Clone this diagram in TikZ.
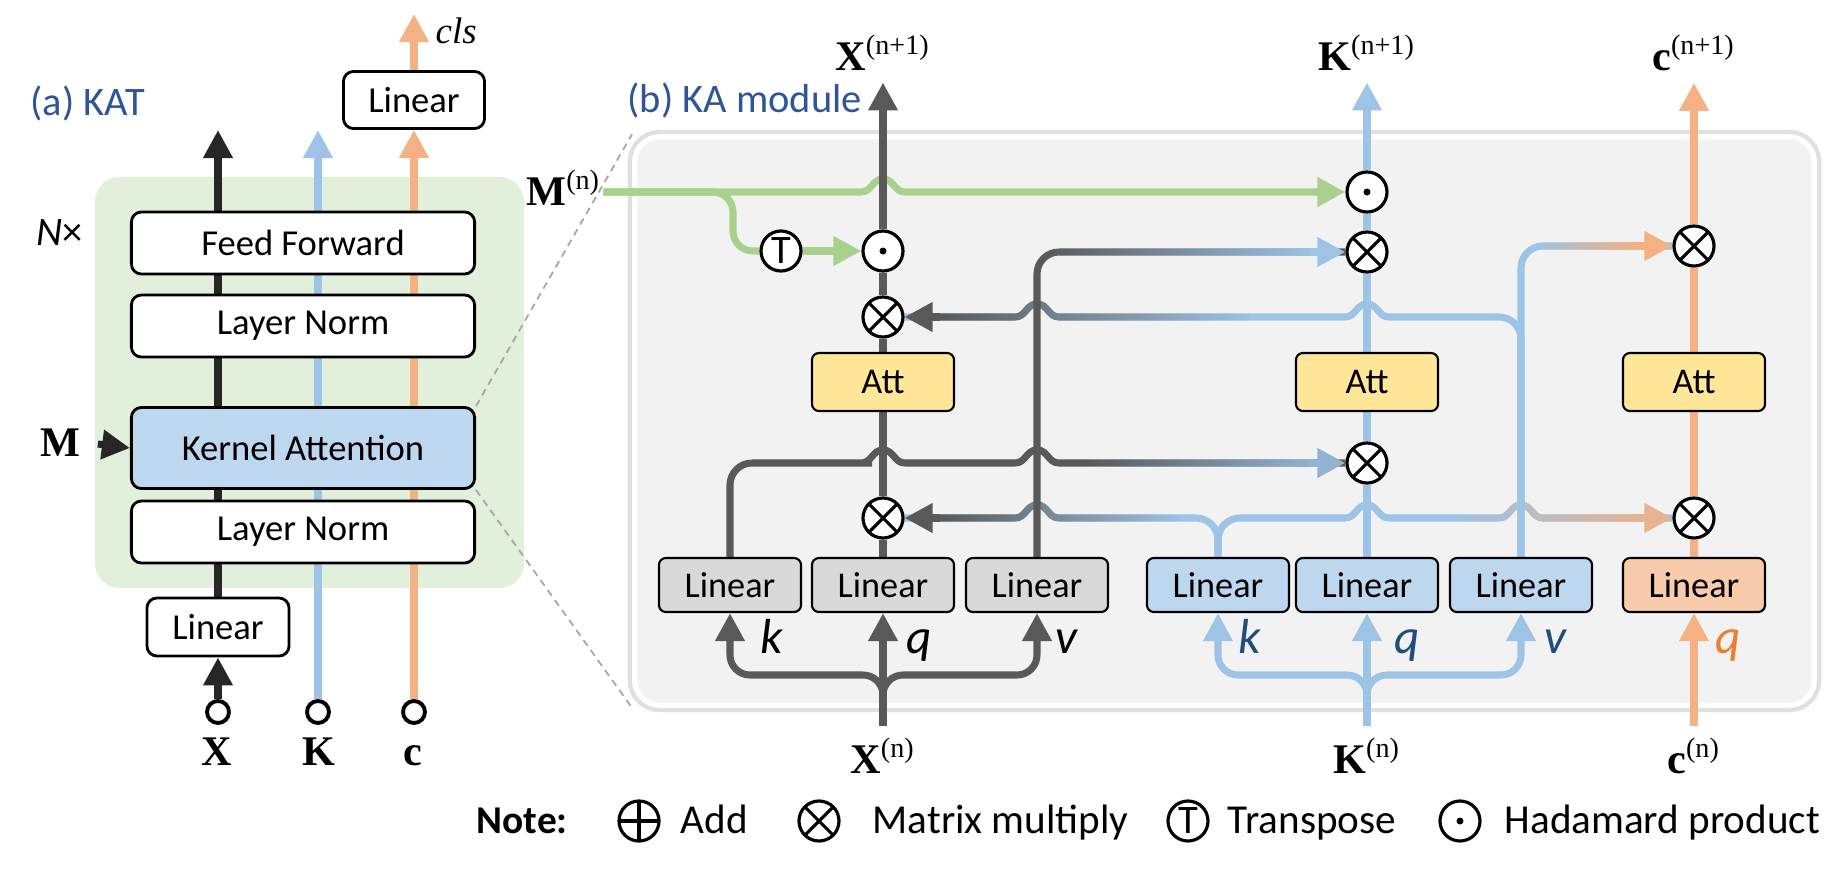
\documentclass[tikz,border=0pt]{standalone}
\usepackage{fontspec}
\setmainfont{Carlito}
\newfontfamily\tms{Liberation Serif}
\usetikzlibrary{arrows.meta}
\usetikzlibrary{fadings}
\definecolor{xgray}{HTML}{595959}
\definecolor{xdark}{HTML}{262626}
\definecolor{kblue}{HTML}{9DC3E6}
\definecolor{corange}{HTML}{F4B183}
\definecolor{mgreen}{HTML}{A9D18E}
\definecolor{linfill}{HTML}{D9D9D9}
\definecolor{kfill}{HTML}{BDD7EE}
\definecolor{cfill}{HTML}{F8CBAD}
\definecolor{attfill}{HTML}{FFE699}
\definecolor{panelbg}{HTML}{F2F2F2}
\definecolor{katbg}{HTML}{E2EFDA}
\definecolor{titleblue}{HTML}{2F5597}
\definecolor{kvar}{HTML}{1F4E79}
\definecolor{cvar}{HTML}{ED7D31}
\pgfdeclarelayer{back}
\pgfdeclarelayer{lines}
\pgfsetlayers{back,lines,main}
\tikzfading[name=fade l2r, left color=transparent!100, right color=transparent!0]
\tikzfading[name=fade r2l, left color=transparent!0, right color=transparent!100]
\newcommand{\vlabel}[2]{{\tms\fontsize{12}{14}\selectfont\textbf{#1}\textsuperscript{#2}}}
% line hop over a vertical line at x=#1, height y=#2
\newcommand{\hopr}[2]{-- (#1-22,#2) .. controls (#1-11,#2) and (#1-11,#2-13) .. (#1,#2-13) .. controls (#1+11,#2-13) and (#1+11,#2) .. (#1+22,#2)}
\newcommand{\hopl}[2]{-- (#1+22,#2) .. controls (#1+11,#2) and (#1+11,#2-13) .. (#1,#2-13) .. controls (#1-11,#2-13) and (#1-11,#2) .. (#1-22,#2)}

\begin{document}
\begin{tikzpicture}[x=0.01cm,y=-0.01cm,line cap=round,>={Triangle[length=0.28cm,width=0.28cm]},
    box/.style={draw,line width=0.8pt,rounded corners=0.1cm,fill=white,minimum width=3.43cm,minimum height=0.62cm,font=\fontsize{10.4}{12}\selectfont},
    lin/.style={draw,line width=0.6pt,rounded corners=0.07cm,minimum width=1.42cm,minimum height=0.54cm,font=\fontsize{10.3}{12}\selectfont},
    att/.style={lin,fill=attfill,minimum height=0.58cm},
    op/.style={circle,draw,line width=0.9pt,fill=white,minimum size=0.4cm,inner sep=0pt},
    otimes/.style={op,path picture={\draw[black,line width=0.9pt] (path picture bounding box.north west) -- (path picture bounding box.south east) (path picture bounding box.north east) -- (path picture bounding box.south west);}},
    odot/.style={op,path picture={\fill[black] (path picture bounding box.center) circle[radius=0.035cm];}},
    oplus/.style={op,path picture={\draw[black,line width=0.9pt] (path picture bounding box.north) -- (path picture bounding box.south) (path picture bounding box.west) -- (path picture bounding box.east);}},
    tee/.style={op,font=\fontsize{11.5}{12}\selectfont},
    port/.style={circle,draw,line width=1.1pt,fill=white,minimum size=0.22cm,inner sep=0pt},
    xline/.style={draw=xgray,line width=2pt},
    dline/.style={draw=xdark,line width=2pt},
    kline/.style={draw=kblue,line width=2pt},
    cline/.style={draw=corange,line width=2pt},
    mline/.style={draw=mgreen,line width=2pt},
    qkv/.style={anchor=base,font=\fontsize{14}{16}\selectfont\itshape},
    paneltitle/.style={anchor=base west,inner sep=0pt,text=titleblue,font=\fontsize{11.5}{14}\selectfont},
    legtext/.style={anchor=base west,inner sep=0pt,font=\fontsize{11.7}{13}\selectfont}]
  \useasboundingbox (0,0) rectangle (1844,884);
  \begin{pgfonlayer}{back}
    \node[fill=katbg,rounded corners=0.25cm,minimum width=4.29cm,minimum height=4.11cm] (katpanel) at (309.5,382.5) {};
    \node[fill=panelbg,draw=white,line width=1.5pt,rounded corners=0.25cm,minimum width=11.79cm,minimum height=5.68cm,
      preaction={draw=black!12,line width=4pt}] (kapanel) at (1224.5,421) {};
  \end{pgfonlayer}

  % (a) KAT
  \node[paneltitle] (titlea) at (30,115) {(a) KAT};
  \node[anchor=base west,inner sep=0pt,font=\fontsize{11.5}{14}\selectfont\itshape] (reps) at (36,245) {N\textup{×}};
  \node[box] (ff) at (303,243) {Feed Forward};
  \node[box] (lnb) at (303,326) {Layer Norm};
  \node[box,fill=kfill,minimum height=0.81cm] (kern) at (303,448) {Kernel Attention};
  \node[box] (lna) at (303,532) {Layer Norm};
  \node[box,minimum width=1.42cm,minimum height=0.58cm] (linx) at (218,627) {Linear};
  \node[box,minimum width=1.41cm,minimum height=0.57cm] (lincls) at (414,100) {Linear};
  \node[port] (px) at (218,712) {};
  \node[port] (pk) at (318,712) {};
  \node[port] (pc) at (414,712) {};
  \node[anchor=base] (lx) at (218,765) {\vlabel{X}{}};
  \node[anchor=base] (lk) at (320,765) {\vlabel{K}{}};
  \node[anchor=base] (lc) at (414,765) {\vlabel{c}{}};
  \node[anchor=base west,inner sep=0pt] (mlab) at (40,456) {\vlabel{M}{}};
  \node[anchor=base west,inner sep=0pt,font=\tms\itshape\fontsize{10.5}{12}\selectfont] (cls) at (435,43) {cls};
  \coordinate (xtop) at (218,130);
  \coordinate (ktop) at (318,130);
  \coordinate (clstip) at (414,14);

  % (b) KA module
  \node[paneltitle] (titleb) at (627,112) {(b) KA module};
  \node[lin,fill=linfill] (xk) at (730,585) {Linear};
  \node[lin,fill=linfill] (xq) at (883,585) {Linear};
  \node[lin,fill=linfill] (xv) at (1037,585) {Linear};
  \node[lin,fill=kfill] (kk) at (1218,585) {Linear};
  \node[lin,fill=kfill] (kq) at (1367,585) {Linear};
  \node[lin,fill=kfill] (kv) at (1521,585) {Linear};
  \node[lin,fill=cfill] (cq) at (1694,585) {Linear};
  \node[att] (attx) at (883,382) {Att};
  \node[att] (attk) at (1367,382) {Att};
  \node[att] (attc) at (1694,382) {Att};
  \node[odot] (xhad) at (883,251) {};
  \node[otimes] (xmul1) at (883,317) {};
  \node[otimes] (xmul2) at (883,518) {};
  \node[tee] (xT) at (781,251) {T};
  \node[odot] (khad) at (1367,192) {};
  \node[otimes] (kmul1) at (1367,252) {};
  \node[otimes] (kmul2) at (1367,463) {};
  \node[otimes] (cmul1) at (1694,246) {};
  \node[otimes] (cmul2) at (1694,518) {};
  \node[anchor=base] (xin) at (883,773) {\vlabel{X}{(n)}};
  \node[anchor=base] (kin) at (1367,773) {\vlabel{K}{(n)}};
  \node[anchor=base] (cin) at (1694,773) {\vlabel{c}{(n)}};
  \node[anchor=base] (xout) at (883,70) {\vlabel{X}{(n+1)}};
  \node[anchor=base] (kout) at (1367,70) {\vlabel{K}{(n+1)}};
  \node[anchor=base] (cout) at (1694,70) {\vlabel{c}{(n+1)}};
  \node[anchor=base west,inner sep=0.5pt] (mn) at (524,205) {\vlabel{M}{(n)}};
  \node[qkv] at (772,653) {k};
  \node[qkv] at (919,653) {q};
  \node[qkv] at (1066,653) {v};
  \node[qkv,text=kvar] at (1250,653) {k};
  \node[qkv,text=kvar] at (1407,653) {q};
  \node[qkv,text=kvar] at (1555,653) {v};
  \node[qkv,text=cvar] at (1728,653) {q};
  \coordinate (xsplit) at (883,675);
  \coordinate (ksplit) at (1367,675);
  \coordinate (tsplit) at (733,192);

  % legend
  \node[anchor=base west,inner sep=0pt,font=\fontsize{11.2}{13}\selectfont\bfseries] (note) at (476,833) {Note:};
  \node[oplus] (lgadd) at (639,821) {};
  \node[legtext] at (680,833) {Add};
  \node[otimes] (lgmul) at (819,821) {};
  \node[legtext] at (872,833) {Matrix multiply};
  \node[tee] (lgT) at (1188,821) {T};
  \node[legtext] at (1227,833) {Transpose};
  \node[odot] (lghad) at (1460,821) {};
  \node[legtext] at (1504,833) {Hadamard product};

  \begin{pgfonlayer}{lines}
    % left stack
    \draw[black!35,dash pattern=on 2pt off 1.5pt,line width=0.5pt] (kern.north east) -- (kapanel.north west)
      (kern.south east) -- (kapanel.south west);
    \draw[dline,->] (linx.north) -- (xtop);
    \draw[dline,->] (px.north) -- (linx.south);
    \draw[dline,->,shorten <=0.15cm] (mlab.east) -- (kern.west);
    \draw[kline,->] (pk.north) -- (ktop);
    \draw[cline,->] (pc.north) -- (lincls.south);
    \draw[cline,->] (lincls.north) -- (clstip);

    % mask path
    \draw[mline,->] (mn.east |- khad.west) -- (850,192) \hopr{883}{192} -- (khad.west);
    \draw[mline,rounded corners=0.2cm] (mn.east |- khad.west) -- (tsplit) |- (xT.west);
    \draw[mline,->] (xT) -- (xhad);

    % cross links
    \draw[xline,rounded corners=0.22cm] (xk.north) |- (850,463) [sharp corners] \hopr{883}{463} \hopr{1037}{463} -- (kmul2.west);
    \draw[kblue!85!xgray,line width=2pt,path fading=fade l2r] (1091,463) -- (1310,463);
    \draw[kblue!85!xgray,line width=2pt,->] (1310,463) -- (kmul2.west);
    \draw[kline,rounded corners=0.22cm] (kk.north) |- (1100,518) [sharp corners] \hopl{1037}{518} -- (xmul2.east);
    \draw[xline,path fading=fade r2l] (1180,518) \hopl{1037}{518} -- (940,518);
    \draw[xline,->] (940,518) -- (xmul2.east);
    \draw[kline,rounded corners=0.22cm] (kk.north) |- (1300,518) [sharp corners] \hopr{1367}{518} \hopr{1521}{518} -- (cmul2.west);
    \draw[corange!85!kblue,line width=2pt,path fading=fade l2r] (1460,518) \hopr{1521}{518} -- (1636,518);
    \draw[corange!85!kblue,line width=2pt,->] (1636,518) -- (cmul2.west);
    \draw[kline,rounded corners=0.22cm] (kv.north) |- (1420,317) [sharp corners] \hopl{1367}{317} -- (1100,317) \hopl{1037}{317} -- (xmul1.east);
    \draw[xline,path fading=fade r2l] (1250,317) -- (1100,317) \hopl{1037}{317} -- (940,317);
    \draw[xline,->] (940,317) -- (xmul1.east);
    \draw[kline,rounded corners=0.22cm] (kv.north) |- (cmul1.west);
    \draw[cline,path fading=fade l2r] (1540,246) -- (1636,246);
    \draw[cline,->] (1636,246) -- (cmul1.west);
    \draw[xline,rounded corners=0.22cm] (xv.north) |- (kmul1.west);
    \draw[kline,path fading=fade l2r] (1046,252) -- (1310,252);
    \draw[kline,->] (1310,252) -- (kmul1.west);

    % X stream
    \draw[xline,->] (xin.north) -- (xq.south);
    \draw[xline,->,rounded corners=0.2cm] (xin.north) -- (xsplit) -| (xk.south);
    \draw[xline,->,rounded corners=0.2cm] (xin.north) -- (xsplit) -| (xv.south);
    \draw[xline] (xq) -- (xmul2) -- (attx) -- (xmul1) -- (xhad);
    \draw[xline,->] (xhad) -- (xout.south);

    % K stream
    \draw[kline,->] (kin.north) -- (kq.south);
    \draw[kline,->,rounded corners=0.2cm] (kin.north) -- (ksplit) -| (kk.south);
    \draw[kline,->,rounded corners=0.2cm] (kin.north) -- (ksplit) -| (kv.south);
    \draw[kline] (kq) -- (kmul2) -- (attk) -- (kmul1) -- (khad);
    \draw[kline,->] (khad) -- (kout.south);

    % c stream
    \draw[cline,->] (cin.north) -- (cq.south);
    \draw[cline] (cq) -- (cmul2) -- (attc) -- (cmul1);
    \draw[cline,->] (cmul1) -- (cout.south);
  \end{pgfonlayer}
\end{tikzpicture}
\end{document}
